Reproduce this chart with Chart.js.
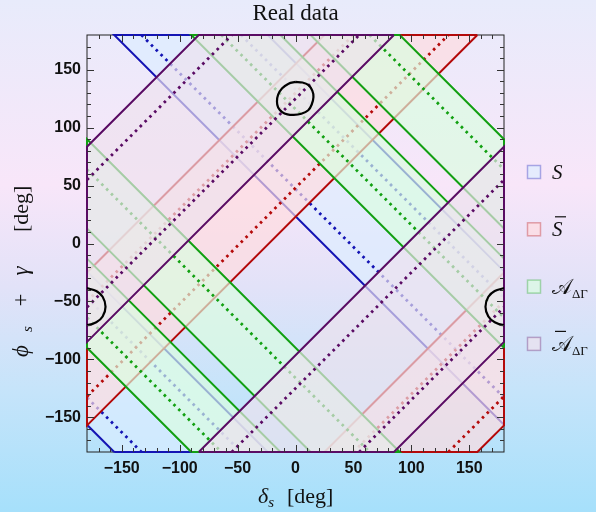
<!DOCTYPE html>
<html>
<head>
<meta charset="utf-8">
<script src="https://cdn.jsdelivr.net/npm/chart.js@4.4.0/dist/chart.umd.min.js"></script>
<style>
  html, body { margin: 0; padding: 0; }
  body {
    width: 596px; height: 512px; overflow: hidden;
    background: linear-gradient(to bottom, #e8ebfb 0%, #f8e6f9 36%, #e2e2f8 56%, #c6e4fa 76%, #a6e0fb 100%);
  }
  canvas { display: block; }
</style>
</head>
<body>
<canvas id="myChart" width="596" height="512"></canvas>
<script>
// tick labels (deg)
const xTicks = [-150, -100, -50, 0, 50, 100, 150]
const yTicks = [-150, -100, -50, 0, 50, 100, 150]

// S : allowed band of phi+gamma+delta and its central values
const sBand = [[23.5, 156]]
const sCentral = [47, 133]
// S bar : band of phi+gamma-delta
const sbarBand = [[23, 155]]
const sbarCentral = [48, 130]
// A_DeltaGamma : bands of phi+gamma+delta
const aBand = [[90, 167], [-167, -90]]
const aCentral = [116, -116]
// A bar_DeltaGamma : band of phi+gamma-delta
const abarBand = [[95, 263.5]]
const abarCentral = [125, 235]

// fit contours
const loopX = [0, 6, 11, 14.5, 15.5, 14, 11, 5, -1.5, -7, -11.5, -15, -16, -15, -11.5, -6, 0]
const loopY = [139.5, 139, 137, 132, 126.5, 120, 115, 112, 111, 111.5, 113.5, 117.5, 122.5, 128.5, 134, 138, 139.5]
const edgeLoopX = [180, 172, 166.5, 164, 166.5, 172, 180, 188, 193.5, 196, 193.5, 188, 180]
const edgeLoopY = [-38.5, -41, -46, -54.5, -63, -68, -70.5, -68, -63, -54.5, -46, -41, -38.5]

const observables = [
  { label: 'S', sign: 1, bands: sBand, central: sCentral, line: '#1414b4', fill: 'rgba(220,237,255,0.68)', box: 'rgba(20,20,180,0.32)' },
  { label: 'Sbar', sign: -1, bands: sbarBand, central: sbarCentral, line: '#b40a0a', fill: 'rgba(255,220,222,0.68)', box: 'rgba(180,10,10,0.32)' },
  { label: 'A', sign: 1, bands: aBand, central: aCentral, line: '#12a012', fill: 'rgba(218,253,224,0.68)', box: 'rgba(18,160,18,0.32)' },
  { label: 'Abar', sign: -1, bands: abarBand, central: abarCentral, line: '#5a0c64', fill: 'rgba(238,225,238,0.68)', box: 'rgba(90,12,100,0.32)' }
]

const square = [[-180, -180], [180, -180], [180, 180], [-180, 180]]

// keep the part of poly where (y + s*x - c) has the given sign
function clipHalf(poly, s, c, dir) {
  const f = p => (p[1] + s * p[0] - c) * dir
  const out = []
  for (let i = 0; i < poly.length; i++) {
    const a = poly[i]
    const b = poly[(i + 1) % poly.length]
    const fa = f(a)
    const fb = f(b)
    if (fa >= 0) out.push(a)
    if ((fa >= 0) !== (fb >= 0)) {
      const t = fa / (fa - fb)
      out.push([a[0] + t * (b[0] - a[0]), a[1] + t * (b[1] - a[1])])
    }
  }
  return out
}

function lineSegment(s, c) {
  // y = c - s*x inside the square
  let lo = s > 0 ? c - 180 : -c - 180
  let hi = s > 0 ? c + 180 : 180 - c
  lo = Math.max(lo, -180)
  hi = Math.min(hi, 180)
  if (lo >= hi) return null
  return [{ x: lo, y: c - s * lo }, { x: hi, y: c - s * hi }]
}

const sets = []
observables.forEach(obs => {
  obs.bands.forEach(b => {
    for (let k = -1; k <= 1; k++) {
      let poly = clipHalf(square, obs.sign, b[0] + 360 * k, 1)
      poly = clipHalf(poly, obs.sign, b[1] + 360 * k, -1)
      if (poly.length < 3) continue
      const pts = poly.map(p => ({ x: p[0], y: p[1] }))
      pts.push(pts[0])
      sets.push({
        data: pts,
        showLine: true,
        fill: 'shape',
        backgroundColor: obs.fill,
        borderColor: obs.line,
        borderWidth: 2,
        pointRadius: 0,
        tension: 0,
        clip: 1.5
      })
    }
  })
  obs.central.forEach(c => {
    for (let k = -1; k <= 1; k++) {
      const seg = lineSegment(obs.sign, c + 360 * k)
      if (!seg) continue
      sets.push({
        data: seg,
        showLine: true,
        fill: false,
        borderColor: obs.line,
        borderWidth: 2.8,
        borderDash: [2.6, 4.2],
        pointRadius: 0,
        tension: 0,
        clip: 0
      })
    }
  })
})

const loops = [
  loopX.map((x, i) => ({ x: x, y: loopY[i] })),
  edgeLoopX.map((x, i) => ({ x: x, y: edgeLoopY[i] })),
  edgeLoopX.map((x, i) => ({ x: x - 360, y: edgeLoopY[i] }))
]
loops.forEach(pts => {
  sets.push({
    data: pts,
    showLine: true,
    fill: false,
    borderColor: '#000',
    borderWidth: 2.2,
    pointRadius: 0,
    tension: 0.35,
    clip: 0
  })
})

// first dataset in the list is drawn first
sets.forEach((d, i) => { d.order = -i })

const serif = '"Liberation Serif", "DejaVu Serif", serif'

function drawSub(ctx, x, y, main, sub, mainFont, subFont, drop) {
  ctx.font = mainFont
  ctx.fillText(main, x, y)
  const w = ctx.measureText(main).width
  ctx.font = subFont
  ctx.fillText(sub, x + w, y + drop)
  return x + w + ctx.measureText(sub).width
}

const decor = {
  id: 'decor',
  beforeDatasetsDraw(chart) {
    const { ctx, chartArea: a } = chart
    ctx.save()
    ctx.strokeStyle = '#222'
    ctx.lineWidth = 1
    ctx.strokeRect(a.left, a.top, a.right - a.left, a.bottom - a.top)
    ctx.restore()
  },
  afterDatasetsDraw(chart) {
    const { ctx, chartArea: a, scales } = chart
    ctx.save()
    ctx.strokeStyle = '#333'
    ctx.lineWidth = 1
    ctx.beginPath()
    for (let v = -170; v <= 170; v += 10) {
      const len = v % 50 === 0 ? 7 : 4
      const px = Math.round(scales.x.getPixelForValue(v)) + 0.5
      const py = Math.round(scales.y.getPixelForValue(v)) + 0.5
      ctx.moveTo(px, a.bottom); ctx.lineTo(px, a.bottom - len)
      ctx.moveTo(px, a.top); ctx.lineTo(px, a.top + len)
      ctx.moveTo(a.left, py); ctx.lineTo(a.left + len, py)
      ctx.moveTo(a.right, py); ctx.lineTo(a.right - len, py)
    }
    ctx.stroke()

    ctx.fillStyle = '#111'
    // title
    ctx.font = '23px ' + serif
    ctx.textAlign = 'center'
    ctx.textBaseline = 'alphabetic'
    ctx.fillText('Real data', (a.left + a.right) / 2, 20)

    // x axis title
    ctx.textAlign = 'left'
    drawSub(ctx, 258, 503, 'δ', 's', 'italic 22px ' + serif, 'italic 15px ' + serif, 4)
    ctx.font = '22px ' + serif
    ctx.fillText('[deg]', 287, 503)

    // y axis title
    ctx.save()
    ctx.rotate(-Math.PI / 2)
    ctx.font = 'italic 23px ' + serif
    ctx.fillText('ϕ', -357, 28)
    ctx.font = 'italic 15px ' + serif
    ctx.fillText('s', -332, 32)
    ctx.textAlign = 'center'
    ctx.font = '23px ' + serif
    ctx.fillText('+', -300, 28)
    ctx.font = 'italic 23px ' + serif
    ctx.fillText('γ', -271, 28)
    ctx.textAlign = 'left'
    ctx.font = '22px ' + serif
    ctx.fillText('[deg]', -232, 28)
    ctx.restore()

    // legend
    observables.forEach((obs, i) => {
      const cy = 172 + i * 57.3
      ctx.fillStyle = obs.fill
      ctx.fillRect(527.5, cy - 6.5, 13, 13)
      ctx.strokeStyle = obs.box
      ctx.lineWidth = 1.5
      ctx.strokeRect(527.5, cy - 6.5, 13, 13)
      ctx.fillStyle = '#111'
      const base = cy + 7
      if (obs.label[0] === 'S') {
        ctx.font = 'italic 21px ' + serif
        ctx.fillText('S', 552, base)
      } else {
        drawSub(ctx, 552, base, '𝒜', 'ΔΓ', '21px ' + serif, '13px ' + serif, 4)
      }
      if (obs.label.endsWith('bar')) {
        ctx.strokeStyle = '#111'
        ctx.lineWidth = 1.2
        ctx.beginPath()
        ctx.moveTo(555, base - 19.5)
        ctx.lineTo(566, base - 19.5)
        ctx.stroke()
      }
    })
    ctx.restore()
  }
}

const tickFont = { family: '"Liberation Sans", Arial, sans-serif', size: 16, weight: 'bold' }
const fmt = v => String(v).replace('-', '\u2212')

new Chart(document.getElementById('myChart'), {
  type: 'scatter',
  data: { datasets: sets },
  options: {
    responsive: false,
    animation: false,
    events: [],
    layout: { padding: { left: 0, top: 35, right: 92, bottom: 0 } },
    plugins: {
      legend: { display: false },
      tooltip: { enabled: false },
      title: { display: false }
    },
    scales: {
      x: {
        type: 'linear', min: -180, max: 180,
        grid: { display: false, drawTicks: false },
        border: { display: false },
        afterBuildTicks: axis => { axis.ticks = xTicks.map(v => ({ value: v })) },
        afterFit: axis => { axis.height = 60 },
        ticks: { font: tickFont, color: '#111', padding: 7, maxRotation: 0, autoSkip: false, callback: fmt }
      },
      y: {
        type: 'linear', min: -180, max: 180,
        grid: { display: false, drawTicks: false },
        border: { display: false },
        afterBuildTicks: axis => { axis.ticks = yTicks.map(v => ({ value: v })) },
        afterFit: axis => { axis.width = 87 },
        ticks: { font: tickFont, color: '#111', padding: 6, autoSkip: false, callback: fmt }
      }
    }
  },
  plugins: [decor]
})
</script>
</body>
</html>
